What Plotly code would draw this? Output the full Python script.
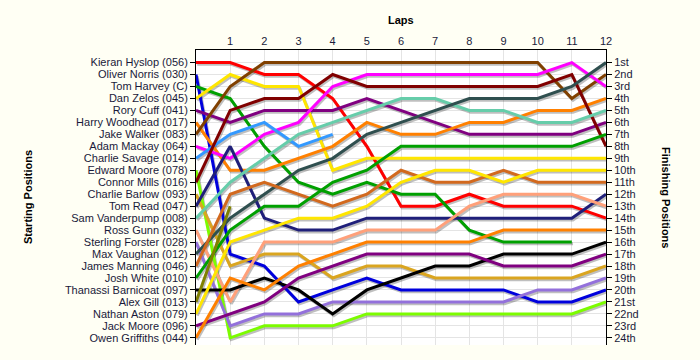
import plotly.graph_objects as go

laps = list(range(0, 13))
drivers = ["Kieran Hyslop (056)", "Oliver Norris (030)", "Tom Harvey (C)", "Dan Zelos (045)",
           "Rory Cuff (041)", "Harry Woodhead (017)", "Jake Walker (083)", "Adam Mackay (064)",
           "Charlie Savage (014)", "Edward Moore (078)", "Connor Mills (016)", "Charlie Barlow (093)",
           "Tom Read (047)", "Sam Vanderpump (008)", "Ross Gunn (032)", "Sterling Forster (028)",
           "Max Vaughan (012)", "James Manning (046)", "Josh White (010)", "Thanassi Barnicoat (097)",
           "Alex Gill (013)", "Nathan Aston (079)", "Jack Moore (096)", "Owen Griffiths (044)"]
finish_labels = ["1st", "2nd", "3rd", "4th", "5th", "6th", "7th", "8th", "9th", "10th", "11th", "12th",
                 "13th", "14th", "15th", "16th", "17th", "18th", "19th", "20th", "21st", "22nd", "23rd", "24th"]

# positions at each lap (lap 0 = start); None = retired
kieran_hyslop = [1, 1, 2, 2, 4, 8, 13, 13, 12, 13, 13, 13, 14]
oliver_norris = [2, 17, 18, 21, 20, 19, 20, 20, 20, 20, 21, 21, 20]
tom_harvey = [3, 4, 8, 11, 12, 11, 12, 12, 15, 16, 16, 16, None]
dan_zelos = [4, 2, 3, 3, 10, 9, 9, 9, 9, 9, 9, 9, 9]
rory_cuff = [5, 6, 5, 5, 5, 4, 5, 6, 7, 7, 7, 7, 6]
harry_woodhead = [6, 10, 10, 9, 8, 6, 7, 7, 6, 6, 5, 5, 4]
jake_walker = [7, 3, 1, 1, 1, 1, 1, 1, 1, 1, 1, 4, 2]
adam_mackay = [8, 9, 7, 6, 3, 2, 2, 2, 2, 2, 2, 1, 3]
charlie_savage = [9, 7, 6, 8, 7, None, None, None, None, None, None, None, None]
edward_moore = [10, 24, 23, 23, 23, 22, 22, 22, 22, 22, 22, 22, 21]
connor_mills = [11, 5, 4, 4, 2, 3, 3, 3, 3, 3, 3, 2, 8]
charlie_barlow = [12, 18, 17, 17, 19, 18, 18, 19, 19, 19, 19, 19, 18]
tom_read = [13, 8, 14, 15, 15, 14, 14, 14, 14, 14, 14, 14, 12]
sam_vanderpump = [14, 11, 9, 7, 6, 5, 4, 4, 5, 5, 6, 6, 5]
ross_gunn = [15, 21, 16, 16, 16, 15, 15, 15, 13, 12, 12, 12, 13]
sterling_forster = [16, 23, 22, 22, 21, 21, 21, 21, 21, 21, 20, 20, 19]
max_vaughan = [17, 14, 12, 10, 9, 7, 6, 5, 4, 4, 4, 3, 1]
james_manning = [18, 12, 11, 12, 13, 12, 10, 11, 11, 10, 11, 11, 11]
josh_white = [19, 15, 13, 13, 11, 10, 8, 8, 8, 8, 8, 8, 7]
thanassi_barnicoat = [20, 20, 19, 20, 22, 20, 19, 18, 18, 17, 17, 17, 16]
alex_gill = [21, 13, None, None, None, None, None, None, None, None, None, None, None]
nathan_aston = [22, 16, 15, 14, 14, 13, 11, 10, 10, 11, 10, 10, 10]
jack_moore = [23, 22, 21, 19, 18, 17, 17, 17, 17, 18, 18, 18, 17]
owen_griffiths = [24, 19, 20, 18, 17, 16, 16, 16, 16, 15, 15, 15, 15]

series = [kieran_hyslop, oliver_norris, tom_harvey, dan_zelos, rory_cuff, harry_woodhead,
          jake_walker, adam_mackay, charlie_savage, edward_moore, connor_mills, charlie_barlow,
          tom_read, sam_vanderpump, ross_gunn, sterling_forster, max_vaughan, james_manning,
          josh_white, thanassi_barnicoat, alex_gill, nathan_aston, jack_moore, owen_griffiths]

colors = ["#FF0000", "#0000DD", "#00A000", "#FFE600", "#800080", "#FF8000",
          "#804000", "#FF00FF", "#3399FF", "#7CFC00", "#800000", "#DAA520",
          "#1F1F7A", "#66CDAA", "#FFA07A", "#9370DB", "#2F4F4F", "#D2691E",
          "#00A000", "#000000", "#808000", "#FFE600", "#800080", "#FF8000"]

fig = go.Figure()

# drop shadows
for s in series:
    fig.add_trace(go.Scatter(x=[l + 0.035 for l in laps],
                             y=[(p + 0.15) if p is not None else None for p in s],
                             mode="lines", line=dict(color="rgba(0,0,0,0.25)", width=3),
                             hoverinfo="skip", showlegend=False, connectgaps=False))
for name, s, c in zip(drivers, series, colors):
    fig.add_trace(go.Scatter(x=laps, y=s, mode="lines", name=name,
                             line=dict(color=c, width=3), showlegend=False))

# invisible trace for right axis
fig.add_trace(go.Scatter(x=[0], y=[1], yaxis="y2", mode="markers",
                         marker=dict(opacity=0), hoverinfo="skip", showlegend=False))

font_tick = dict(family="Liberation Sans, Arial, sans-serif", size=11, color="#1a1a3a")
title_font = dict(family="Liberation Sans, Arial, sans-serif", size=11, color="#000000")
yr = [24.6, -0.05]
bg = "#FFFFF4"
fig.update_layout(
    width=700, height=360,
    margin=dict(l=196, r=94, t=50, b=15),
    paper_bgcolor=bg, plot_bgcolor="#FFFFFF",
    xaxis=dict(side="top", range=[0, 12], tickvals=list(range(1, 13)), automargin=False,
               showgrid=True, gridcolor="#E4E4E4", gridwidth=1, zeroline=False,
               showline=True, linecolor="#000000", linewidth=1,
               ticks="", tickfont=font_tick, fixedrange=True),
    yaxis=dict(range=yr, tickvals=list(range(1, 25)), ticktext=drivers, automargin=False,
               showgrid=True, gridcolor="#E4E4E4", zeroline=False,
               showline=True, linecolor="#000000", linewidth=1,
               ticks="outside", ticklen=5, tickcolor="#000000", tickfont=font_tick),
    yaxis2=dict(range=yr, overlaying="y", side="right", tickvals=list(range(1, 25)),
                ticktext=finish_labels, showgrid=False, zeroline=False, automargin=False,
                showline=True, linecolor="#000000", linewidth=1,
                ticks="outside", ticklen=5, tickcolor="#000000", tickfont=font_tick),
)

pw, ph = 700 - 196 - 94, 360 - 50 - 15
fig.add_annotation(text="<b>Laps</b>", x=0.5, y=1, xref="paper", yref="paper", yshift=38,
                   showarrow=False, font=title_font)
fig.add_annotation(text="<b>Starting Positions</b>", x=(28 - 196) / pw, y=(360 - 15 - 197) / ph,
                   xref="paper", yref="paper", xanchor="center", yanchor="middle",
                   showarrow=False, textangle=-90, font=title_font)
fig.add_annotation(text="<b>Finishing Positions</b>", x=(666 - 196) / pw, y=(360 - 15 - 197) / ph,
                   xref="paper", yref="paper", xanchor="center", yanchor="middle",
                   showarrow=False, textangle=90, font=title_font)

fig.write_html("out.html", config={"displayModeBar": False},
               post_script="document.body.style.margin='0';document.body.style.background='" + bg + "';")
